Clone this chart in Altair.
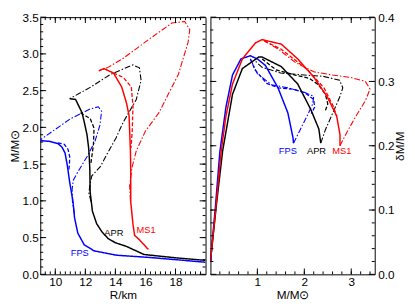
import altair as alt
import numpy as np
import pandas as pd

# ---------------- Left panel: M/Msun vs R/km ----------------
fps_solid_R = [9.0, 9.6, 10.17, 10.45, 10.65, 10.81, 10.96, 11.07, 11.18, 11.28, 11.5, 11.93, 12.58, 14.09, 16.25, 18.0, 20.0]
fps_solid_M = [1.82, 1.81, 1.78, 1.73, 1.65, 1.47, 1.25, 1.12, 0.99, 0.77, 0.56, 0.40, 0.32, 0.26, 0.23, 0.20, 0.165]
fps_dash_R = [10.17, 10.6, 10.85, 10.96, 10.94, 10.9]
fps_dash_M = [1.79, 1.77, 1.70, 1.60, 1.50, 1.42]
fps_dd_R = [11.28, 11.14, 11.12, 11.2, 11.46, 12.11, 12.64, 12.97, 13.08, 12.86, 12.32, 11.03, 9.0]
fps_dd_M = [0.82, 0.99, 1.16, 1.28, 1.38, 1.60, 1.81, 2.03, 2.22, 2.28, 2.25, 2.12, 1.83]

apr_solid_R = [10.96, 11.35, 11.78, 11.93, 12.11, 12.22, 12.26, 12.3, 12.32, 12.47, 12.75, 13.1, 13.5, 14.0, 14.74, 15.9, 18.0, 20.0]
apr_solid_M = [2.39, 2.38, 2.20, 2.07, 1.90, 1.72, 1.60, 1.42, 1.12, 0.86, 0.69, 0.58, 0.49, 0.43, 0.38, 0.27, 0.225, 0.19]
apr_dash_R = [11.67, 12.32, 12.58, 12.54, 12.37]
apr_dash_M = [2.20, 2.12, 1.99, 1.77, 1.51]
apr_dd_R = [12.38, 12.24, 12.3, 12.43, 13.01, 13.45, 14.05, 14.52, 15.39, 15.71, 15.6, 15.17, 13.66, 12.37, 10.96]
apr_dd_M = [0.99, 1.10, 1.22, 1.34, 1.47, 1.64, 1.86, 2.07, 2.38, 2.64, 2.81, 2.85, 2.72, 2.55, 2.39]

ms1_solid_R = [12.9, 13.23, 13.87, 14.42, 14.74, 14.91, 15.0, 15.02, 15.02, 15.17, 15.28, 15.6, 16.14, 16.2]
ms1_solid_M = [2.77, 2.80, 2.74, 2.55, 2.33, 2.16, 1.68, 1.42, 0.99, 0.68, 0.53, 0.47, 0.35, 0.34]
ms1_dash_R = [13.87, 14.52, 15.06, 15.17, 15.12, 15.04]
ms1_dash_M = [2.74, 2.68, 2.55, 2.29, 1.95, 1.72]
ms1_dd_R = [15.0, 14.95, 15.1, 15.39, 16.0, 16.9, 17.54, 18.19, 18.84, 18.95, 18.62, 17.76, 16.25, 14.52, 13.45, 12.9]
ms1_dd_M = [1.0, 1.2, 1.45, 1.68, 1.95, 2.20, 2.46, 2.72, 3.16, 3.33, 3.44, 3.42, 3.20, 2.94, 2.81, 2.77]

# ---------------- Right panel: dM/M vs M/Msun ----------------
fps_r_solid_M = [0.0, 0.1, 0.2, 0.33, 0.47, 0.65, 0.85, 1.0, 1.17, 1.44, 1.65, 1.76, 1.77]
fps_r_solid_d = [0.02, 0.10, 0.19, 0.26, 0.31, 0.335, 0.34, 0.335, 0.325, 0.29, 0.251, 0.212, 0.204]
fps_r_dash_M = [0.85, 0.95, 1.2, 1.45, 1.75, 2.0, 2.2, 2.22, 2.15]
fps_r_dash_d = [0.335, 0.318, 0.297, 0.29, 0.288, 0.283, 0.272, 0.26, 0.25]
fps_r_dd_M = [1.77, 1.9, 2.05, 2.18, 2.2, 2.0, 1.65, 1.3, 1.0, 0.85]
fps_r_dd_d = [0.204, 0.223, 0.245, 0.265, 0.277, 0.283, 0.29, 0.295, 0.312, 0.335]

apr_r_solid_M = [0.0, 0.13, 0.26, 0.47, 0.68, 1.03, 1.1, 1.51, 1.86, 2.14, 2.31, 2.35]
apr_r_solid_d = [0.02, 0.11, 0.192, 0.28, 0.32, 0.338, 0.338, 0.323, 0.296, 0.256, 0.226, 0.204]
apr_r_dash_M = [1.1, 1.4, 1.8, 2.1, 2.3, 2.45, 2.5, 2.45]
apr_r_dash_d = [0.335, 0.318, 0.31, 0.305, 0.295, 0.28, 0.265, 0.255]
apr_r_dd_M = [2.35, 2.45, 2.6, 2.75, 2.82, 2.75, 2.4, 2.0, 1.5, 1.1, 0.95]
apr_r_dd_d = [0.204, 0.225, 0.25, 0.275, 0.29, 0.302, 0.308, 0.31, 0.313, 0.322, 0.332]

ms1_r_solid_M = [0.0, 0.11, 0.23, 0.33, 0.47, 0.68, 0.96, 1.1, 1.51, 1.86, 2.21, 2.49, 2.69, 2.76, 2.76]
ms1_r_solid_d = [0.02, 0.10, 0.192, 0.246, 0.296, 0.335, 0.36, 0.365, 0.358, 0.335, 0.306, 0.276, 0.246, 0.217, 0.2]
ms1_r_dash_M = [1.15, 1.51, 2.07, 2.42, 2.62, 2.69]
ms1_r_dash_d = [0.363, 0.35, 0.318, 0.29, 0.261, 0.246]
ms1_r_dd_M = [2.76, 2.9, 3.1, 3.3, 3.4, 3.3, 3.0, 2.6, 2.2, 1.8, 1.45, 1.15]
ms1_r_dd_d = [0.2, 0.22, 0.246, 0.27, 0.288, 0.3, 0.306, 0.31, 0.315, 0.33, 0.35, 0.363]

eos_names = ["FPS", "APR", "MS1"]
eos_colors = ["#0000ff", "#000000", "#ff0000"]

label_text = ["FPS", "APR", "MS1"]
left_label_R = [11.63, 13.9, 16.04]
left_label_M = [0.29, 0.56, 0.60]
right_label_M = [1.65, 2.26, 2.80]
right_label_d = [0.192, 0.192, 0.192]

left_x_labels = [10, 12, 14, 16, 18]
left_y_labels = [0.0, 0.5, 1.0, 1.5, 2.0, 2.5, 3.0, 3.5]
right_x_labels = [1, 2, 3]
right_y_labels = [0.0, 0.1, 0.2, 0.3, 0.4]


def make_df(series):
    rows = []
    for eos, style, xs, ys in series:
        for i, (a, b) in enumerate(zip(xs, ys)):
            rows.append(dict(eos=eos, style=style, x=a, y=b, i=i))
    return pd.DataFrame(rows)


dfL = make_df([
    ("FPS", "solid", fps_solid_R, fps_solid_M), ("FPS", "dashed", fps_dash_R, fps_dash_M), ("FPS", "dashdot", fps_dd_R, fps_dd_M),
    ("APR", "solid", apr_solid_R, apr_solid_M), ("APR", "dashed", apr_dash_R, apr_dash_M), ("APR", "dashdot", apr_dd_R, apr_dd_M),
    ("MS1", "solid", ms1_solid_R, ms1_solid_M), ("MS1", "dashed", ms1_dash_R, ms1_dash_M), ("MS1", "dashdot", ms1_dd_R, ms1_dd_M),
])
dfR = make_df([
    ("FPS", "solid", fps_r_solid_M, fps_r_solid_d), ("FPS", "dashed", fps_r_dash_M, fps_r_dash_d), ("FPS", "dashdot", fps_r_dd_M, fps_r_dd_d),
    ("APR", "solid", apr_r_solid_M, apr_r_solid_d), ("APR", "dashed", apr_r_dash_M, apr_r_dash_d), ("APR", "dashdot", apr_r_dd_M, apr_r_dd_d),
    ("MS1", "solid", ms1_r_solid_M, ms1_r_solid_d), ("MS1", "dashed", ms1_r_dash_M, ms1_r_dash_d), ("MS1", "dashdot", ms1_r_dd_M, ms1_r_dd_d),
])
labL = pd.DataFrame({"eos": label_text, "x": left_label_R, "y": left_label_M})
labR = pd.DataFrame({"eos": label_text, "x": right_label_M, "y": right_label_d})

FONT = "Liberation Sans"
H = 263
W1 = 169
W2 = 168
MAJ = 6
MIN = 3

color_scale = alt.Scale(domain=eos_names, range=eos_colors)
dash_scale = alt.Scale(domain=["solid", "dashed", "dashdot"], range=[[1, 0], [4, 2], [6, 2, 1.5, 2]])
width_scale = alt.Scale(domain=["solid", "dashed", "dashdot"], range=[1.5, 1.1, 1.1])


def ticks_layers(xscale, yscale, xaxis, yaxis, xmaj, xmin, ymaj, ymin, W):
    layers = []
    for vals, L in ((xmaj, MAJ), (xmin, MIN)):
        d = pd.DataFrame({"v": vals})
        base = alt.Chart(d).mark_rule(color="black", strokeWidth=1)
        layers.append(base.encode(x=alt.X("v:Q", scale=xscale, axis=xaxis), y=alt.value(H), y2=alt.value(H - L)))
        layers.append(base.encode(x=alt.X("v:Q", scale=xscale, axis=xaxis), y=alt.value(0), y2=alt.value(L)))
    for vals, L in ((ymaj, MAJ), (ymin, MIN)):
        d = pd.DataFrame({"v": vals})
        base = alt.Chart(d).mark_rule(color="black", strokeWidth=1)
        layers.append(base.encode(y=alt.Y("v:Q", scale=yscale, axis=yaxis), x=alt.value(0), x2=alt.value(L)))
        layers.append(base.encode(y=alt.Y("v:Q", scale=yscale, axis=yaxis), x=alt.value(W), x2=alt.value(W - L)))
    return layers


def panel(df, lab, xscale, yscale, xaxis, yaxis, W, xmaj, xmin, ymaj, ymin):
    lines = alt.Chart(df).mark_line(clip=True).encode(
        x=alt.X("x:Q", scale=xscale, axis=xaxis),
        y=alt.Y("y:Q", scale=yscale, axis=yaxis),
        color=alt.Color("eos:N", scale=color_scale, legend=None),
        strokeDash=alt.StrokeDash("style:N", scale=dash_scale, legend=None),
        strokeWidth=alt.StrokeWidth("style:N", scale=width_scale, legend=None),
        order="i:Q",
    )
    texts = alt.Chart(lab).mark_text(font=FONT, fontSize=9.5, baseline="middle", align="center").encode(
        x=alt.X("x:Q", scale=xscale, axis=xaxis),
        y=alt.Y("y:Q", scale=yscale, axis=yaxis),
        text="eos:N",
        color=alt.Color("eos:N", scale=color_scale, legend=None),
    )
    return alt.layer(lines, texts, *ticks_layers(xscale, yscale, xaxis, yaxis, xmaj, xmin, ymaj, ymin, W)).properties(width=W, height=H)


lx = alt.Scale(domain=[9, 20], nice=False, zero=False)
ly = alt.Scale(domain=[0, 3.5], nice=False, zero=False)
rx = alt.Scale(domain=[0, 3.5], nice=False, zero=False)
ry = alt.Scale(domain=[0, 0.4], nice=False, zero=False)

xcommon = dict(ticks=False, domain=False, grid=False, labelPadding=2, titlePadding=3)
ycommon = dict(ticks=False, domain=False, grid=False, titlePadding=1)

left = panel(
    dfL, labL, lx, ly,
    alt.Axis(values=left_x_labels, format="d", title="R/km", **xcommon),
    alt.Axis(values=left_y_labels, format=".1f", title="M/M\u2299", labelPadding=2, **ycommon),
    W1,
    left_x_labels, [v for v in np.arange(9, 20.001, 1 / 3) if 9.01 < v < 19.99],
    left_y_labels, [v for v in np.arange(0, 3.5001, 0.1) if 0.01 < v < 3.49],
)
right = panel(
    dfR, labR, rx, ry,
    alt.Axis(values=right_x_labels, format="d", title="M/M\u2299", **xcommon),
    alt.Axis(values=right_y_labels, format=".1f", title="\u03b4M/M", orient="right",
             titleAngle=270, titleBaseline="top", labelPadding=3, **ycommon),
    W2,
    right_x_labels, [v for v in np.arange(0, 3.5001, 0.2) if 0.01 < v < 3.49],
    right_y_labels, [v for v in np.arange(0, 0.4001, 0.02) if 0.001 < v < 0.399],
)

chart = alt.hconcat(left, right, spacing=3).properties(
    padding={"left": -1, "top": -1, "right": 0, "bottom": 0}
).configure_view(stroke="black", strokeWidth=1).configure_axis(
    labelFont=FONT, titleFont=FONT, labelFontSize=12, titleFontSize=12,
    labelColor="black", titleColor="black", titleFontWeight="normal",
)

chart.save("out.html", embed_options={"renderer": "svg", "actions": False})
